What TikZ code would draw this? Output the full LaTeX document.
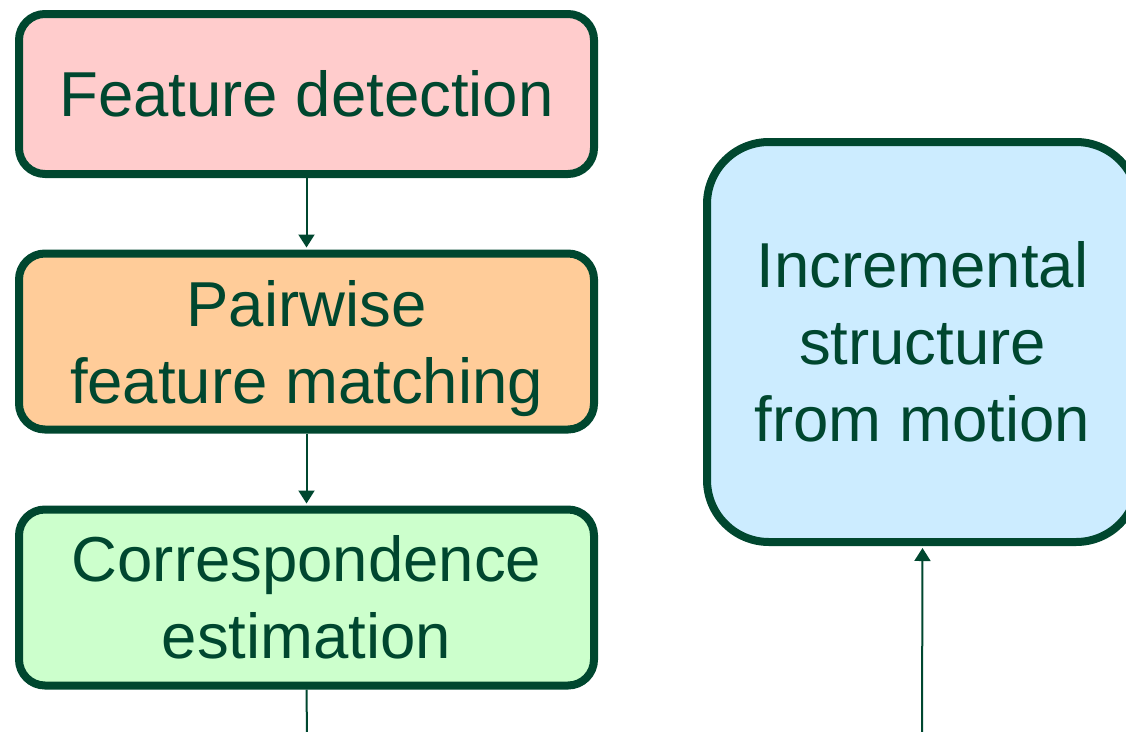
\documentclass[tikz,border=0pt]{standalone}
\usepackage{fontspec}
\setmainfont{Liberation Sans}
\usetikzlibrary{arrows.meta}
\definecolor{edge}{HTML}{00472F}
\definecolor{pinkfill}{HTML}{FFCCCC}
\definecolor{orangefill}{HTML}{FFCC99}
\definecolor{greenfill}{HTML}{CCFFCC}
\definecolor{bluefill}{HTML}{CCECFF}
\tikzset{
  stagebox/.style={draw=edge, line width=8pt, rounded corners=26pt, inner sep=0pt,
    minimum width=575pt, align=center, text=edge,
    font=\fontsize{63.5}{77}\selectfont},
  flow/.style={draw=edge, line width=2pt, -{Triangle[length=13pt,width=16pt]}, shorten >=2pt},
  plain/.style={draw=edge, line width=2pt}
}
\begin{document}
\begin{tikzpicture}[x=1pt,y=-1pt]
\useasboundingbox (0,0) rectangle (1126,731);
\clip (0,0) rectangle (1126,731);
\node[stagebox, fill=pinkfill, minimum height=160pt] (b1) at (306.5,94) {Feature detection};
\node[stagebox, fill=orangefill, minimum height=176pt, text depth=0pt] (b2) at (306.5,341.5) {Pairwise\\feature matching};
\node[stagebox, fill=greenfill, minimum height=176pt] (b3) at (306.5,597.5) {Correspondence\\estimation};
\node[stagebox, fill=bluefill, rounded corners=62pt, minimum width=431pt, minimum height=400pt] (b4) at (922.5,342) {Incremental\\structure\\from motion};
\coordinate (out3) at (307,735);
\coordinate (in4) at (922,735);
\draw[flow] (b1.south) -- (b2.north);
\draw[flow] (b2.south) -- (b3.north);
\draw[plain] (b3.south) -- (out3);
\draw[flow] (in4) -- (b4.south);
\end{tikzpicture}
\end{document}
